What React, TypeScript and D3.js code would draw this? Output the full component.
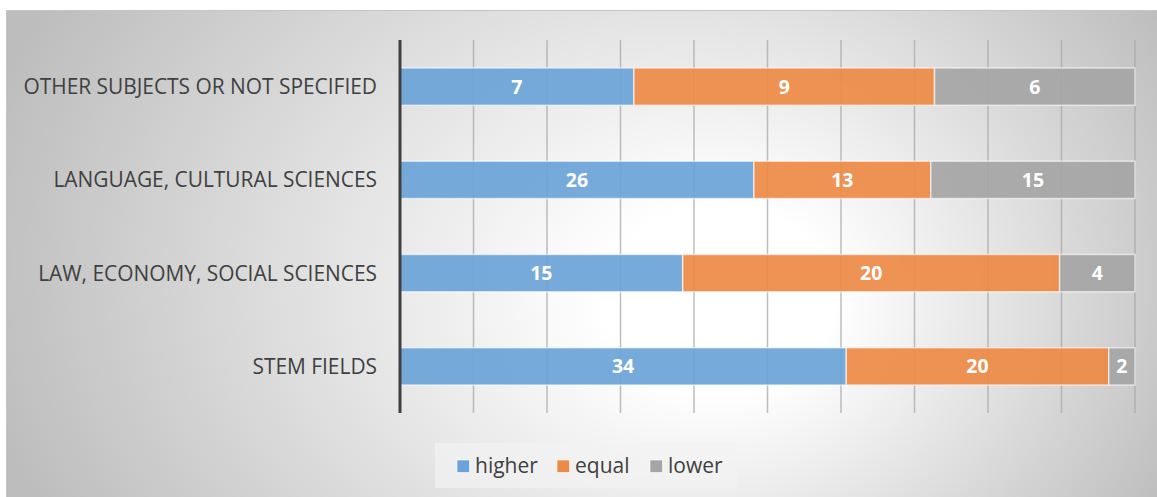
import React from "react";
import * as d3 from "d3";

// Survey categories, top to bottom
const categories = [
  "OTHER SUBJECTS OR NOT SPECIFIED",
  "LANGUAGE, CULTURAL SCIENCES",
  "LAW, ECONOMY, SOCIAL SCIENCES",
  "STEM FIELDS",
];

// Counts per answer, aligned with categories
const higher = [7, 26, 15, 34];
const equal = [9, 13, 20, 20];
const lower = [6, 15, 4, 2];

const seriesNames = ["higher", "equal", "lower"];
const seriesColors = ["#6aa3d8", "#ee8a47", "#a5a5a5"];

// Gridline positions on the 100% axis
const gridTicks = d3.range(0, 1.0001, 0.1);

const W = 1157;
const H = 497;

export default function App() {
  const rows = categories.map((c, i) => ({
    category: c,
    higher: higher[i],
    equal: equal[i],
    lower: lower[i],
  }));

  const stack = d3
    .stack<any>()
    .keys(seriesNames)
    .offset(d3.stackOffsetExpand);
  const layers = stack(rows);

  const x = d3.scaleLinear().domain([0, 1]).range([400, 1135]);
  const y = d3
    .scaleBand<string>()
    .domain(categories)
    .range([40, 413])
    .paddingInner(0.6)
    .paddingOuter(0.3);

  const font = "'Open Sans', 'DejaVu Sans', sans-serif";

  const legendItems = [
    { name: "higher", sq: 457, tx: 475 },
    { name: "equal", sq: 557, tx: 575 },
    { name: "lower", sq: 650, tx: 668 },
  ];

  return (
    <svg
      width={W}
      height={H}
      style={{ position: "absolute", left: 0, top: 0, display: "block" }}
    >
      <defs>
        <radialGradient
          id="panelBg"
          gradientUnits="userSpaceOnUse"
          cx={600}
          cy={260}
          r={640}
          fx={745}
          fy={320}
          gradientTransform="translate(0,260) scale(1,0.8) translate(0,-260)"
        >
          <stop offset="0" stopColor="#ffffff" />
          <stop offset="0.18" stopColor="#ffffff" />
          <stop offset="1" stopColor="#bdbdbd" />
        </radialGradient>
      </defs>
      <rect x={0} y={0} width={W} height={H} fill="#ffffff" />
      <rect
        x={6.5}
        y={10.5}
        width={W}
        height={H}
        fill="url(#panelBg)"
        stroke="#c4c4c4"
        strokeWidth={1}
      />

      {/* vertical gridlines */}
      {gridTicks.slice(1).map((t) => (
        <line
          key={t}
          x1={x(t)}
          x2={x(t)}
          y1={40}
          y2={413}
          stroke="#a8a8a8"
          strokeOpacity={0.75}
          strokeWidth={1.5}
        />
      ))}

      {/* stacked segments */}
      {layers.map((layer, si) =>
        layer.map((seg, ci) => {
          const x0 = x(seg[0]);
          const x1 = x(seg[1]);
          const yy = y(categories[ci]) as number;
          const bw = y.bandwidth();
          const v = (rows[ci] as any)[seriesNames[si]];
          return (
            <g key={`${si}-${ci}`}>
              <rect
                x={x0}
                y={yy}
                width={x1 - x0}
                height={bw}
                fill={seriesColors[si]}
                fillOpacity={0.92}
                stroke="#ffffff"
                strokeOpacity={0.6}
                strokeWidth={1.5}
              />
              <text
                x={(x0 + x1) / 2}
                y={yy + bw / 2}
                dy="0.36em"
                textAnchor="middle"
                fill="#ffffff"
                fontFamily={font}
                fontWeight={700}
                fontSize={19.5}
              >
                {v}
              </text>
            </g>
          );
        })
      )}

      {/* category axis */}
      <line x1={400} x2={400} y1={40} y2={413} stroke="#404040" strokeWidth={3} />
      {categories.map((c) => (
        <text
          key={c}
          x={377}
          y={(y(c) as number) + y.bandwidth() / 2}
          dy="0.36em"
          textAnchor="end"
          fill="#404040"
          fontFamily={font}
          fontSize={20.9}
        >
          {c}
        </text>
      ))}

      {/* legend */}
      <rect x={435} y={443} width={302} height={45} fill="#f2f2f2" fillOpacity={0.7} />
      {legendItems.map((it, i) => (
        <g key={it.name}>
          <rect
            x={it.sq}
            y={460}
            width={12.5}
            height={12.5}
            fill={seriesColors[i]}
            stroke="#ffffff"
            strokeOpacity={0.6}
            strokeWidth={1}
          />
          <text
            x={it.tx}
            y={473}
            fill="#404040"
            fontFamily={font}
            fontSize={21}
          >
            {it.name}
          </text>
        </g>
      ))}
    </svg>
  );
}
